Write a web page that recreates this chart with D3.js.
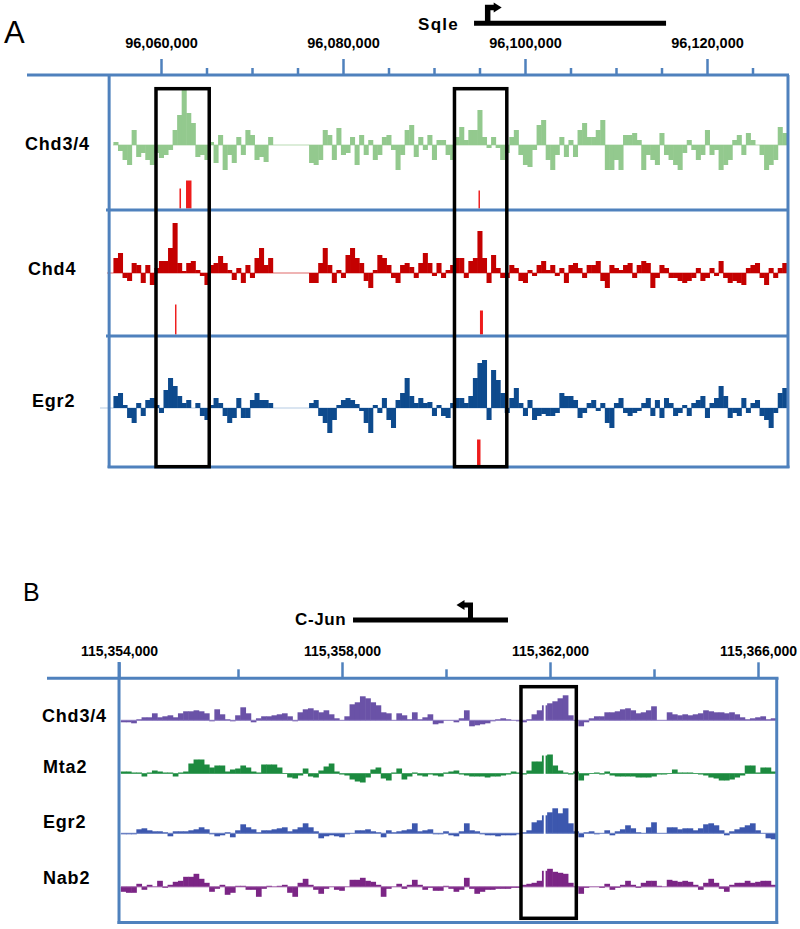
<!DOCTYPE html>
<html><head><meta charset="utf-8">
<script src="https://cdn.jsdelivr.net/npm/d3@7"></script>
<style>
body{margin:0;background:#fff}
svg{display:block}
text{font-family:"Liberation Sans",Arial,sans-serif}
</style>
</head><body>
<svg id="c" width="800" height="929"></svg>
<script>
// ================= PANEL A DATA =================
const labelsA = ["Chd3/4", "Chd4", "Egr2"];
const majorTicksA = [96060000, 96080000, 96100000, 96120000];
const minorTicksA = [96065000, 96070000, 96075000, 96085000, 96090000, 96095000, 96105000, 96110000, 96115000, 96125000];
const viewA = [96054300, 96128900];
const binStartA = 96054800, binSizeA = 500;
const N = null;
const chd34A = [3,-6,-15,-20,15,-12,-8,-15,-20,-8,-13,-10,-5,15,30,55,32,22,-12,-10,-15,3,-18,10,-25,-10,-18,8,-10,15,10,-15,-12,-17,8,
  N,N,N,N,N,N,N,N,
  -18,-20,-15,15,10,-15,17,-10,-8,8,-20,10,-10,5,-15,-10,8,10,-5,-25,-10,15,20,-12,8,-5,10,-15,5,5,
  -10,-15,8,18,5,15,15,35,8,-3,8,-3,-15,-8,8,15,-10,-20,-22,-5,20,25,-15,-25,-10,8,-12,5,-12,15,22,8,8,15,25,-25,-25,-15,-25,10,10,12,5,-25,-10,-15,-20,12,-10,-15,-20,-25,-8,5,-5,-15,-10,15,-10,-5,-25,-20,-15,5,10,-10,12,5,0,-10,-25,-20,-15,18,12];
const chd4A = [15,20,-5,-8,10,8,-10,8,-12,5,12,12,25,50,10,2,10,12,3,-3,-12,8,10,17,10,3,-7,5,-10,8,-5,15,25,8,15,
  N,N,N,N,N,N,N,N,
  -10,-10,10,25,8,-10,3,-5,18,25,15,10,-8,-15,3,18,15,8,-5,-10,8,10,6,-5,10,20,10,-3,10,-5,
  3,8,15,15,-5,12,15,42,15,-10,18,5,-5,-5,8,5,-8,-10,3,-3,8,12,3,8,-3,5,-10,8,10,5,-5,8,8,12,-8,-15,8,5,3,8,10,-5,8,12,10,-15,-5,8,5,-5,-5,-8,-10,-8,-5,5,-8,-5,5,-3,12,-5,-10,-8,-10,-12,5,8,10,-5,-12,5,-5,5,10];
const egr2A = [12,15,3,-10,-15,5,-8,8,10,3,-5,18,30,22,12,5,8,0,5,-8,-12,3,10,5,-8,-15,-10,10,-10,-10,8,15,8,8,5,
  N,N,N,N,N,N,N,N,
  5,8,-8,-15,-25,-12,3,8,10,8,4,-3,-15,-25,3,-5,10,-12,-20,8,15,30,12,5,10,5,6,-8,3,-8,
  -10,5,10,10,5,12,30,45,48,-12,38,28,15,-5,10,20,5,-8,8,-12,-8,-6,-8,-8,-5,15,12,12,8,-10,-5,5,8,-3,5,-15,-20,5,10,-5,-8,-5,-3,5,10,-8,8,-10,10,5,-8,-5,3,-8,5,8,12,-10,5,10,22,12,-10,-5,-8,10,-5,5,8,-8,-12,-20,-5,15,20];
// called peaks (red bars) per track
const peakTrackA = [0, 0, 0, 1, 1, 2];
const peakStartA = [96062030, 96062750, 96094890, 96061540, 96095050, 96094730];
const peakEndA   = [96062200, 96063350, 96095050, 96061700, 96095380, 96095110];
const peakScoreA = [20, 28, 18, 30, 24, 26];
const boxStartA = [96059450, 96092250];
const boxEndA   = [96065300, 96098000];
const geneA = {name: "Sqle", start: 96094400, end: 96115500, tss: 96095900, strand: "+"};

// ================= PANEL B DATA =================
const labelsB = ["Chd3/4", "Mta2", "Egr2", "Nab2"];
const tickPosB = [115353712, 115358000, 115362000, 115366000];
const tickLabelsB = ["115,354,000", "115,358,000", "115,362,000", "115,366,000"];
const minorTicksB = [115356000, 115360000, 115364000];
const viewB = [115353712, 115366360];
const binStartB = 115353750, binSizeB = 100;
const chd34B = [-2,-2,-3,1,3,3,7,3,4,5,3,7,9,9,10,9,7,-1,11,6,1,-1,5,13,7,-2,2,4,4,5,6,7,4,-1,8,11,12,10,8,10,6,2,0,4,16,18,24,22,18,15,8,7,0,7,5,1,8,1,3,6,-4,-3,0,
  0,-2,2,10,-6,-5,-4,-3,-1,1,2,1,0,-1,-2,1,6,10,15,17,19,22,25,5,0,-6,-2,2,4,4,8,8,9,11,12,10,7,8,10,14,0,0,8,6,5,6,5,6,7,10,9,8,8,7,8,6,3,1,2,3,4,1,2];
const mta2B = [2,2,1,1,-3,1,3,2,1,1,-3,1,2,10,14,14,9,6,8,8,2,4,5,8,6,2,1,9,9,9,6,0,-4,-5,-2,5,-3,-4,3,7,10,2,-1,-2,-6,-8,-9,-4,4,6,-5,-7,1,5,-6,-3,1,-2,-3,-1,-2,-3,1,
  2,3,-1,-2,-3,-3,-3,-4,-3,-3,-2,-1,2,1,-1,3,12,12,18,19,8,3,1,-1,2,-7,-2,0,1,-1,2,-2,-3,-3,-3,-3,-4,-4,-4,-3,-1,-1,0,4,1,1,1,0,-1,-2,-4,-5,-7,-7,-6,-4,-2,8,8,1,6,6,2];
const egr2B = [-1,-1,-1,4,5,3,2,2,1,-3,2,2,2,3,4,6,4,-1,-3,-2,1,-4,3,9,6,4,1,3,3,4,5,6,2,4,6,10,6,2,-5,-3,-2,-3,-4,-1,0,3,3,4,2,1,-4,3,1,2,3,4,10,2,3,4,-1,-1,2,
  -2,-3,2,10,3,2,-1,-2,-2,-3,-2,-2,-2,-1,1,3,11,13,18,21,25,20,25,10,2,-4,1,2,-1,0,3,-2,2,4,8,5,1,0,6,11,0,0,6,6,4,5,5,3,5,9,10,8,3,-2,2,4,6,8,10,3,0,-5,-6];
const nab2B = [-5,-6,-6,3,-3,2,0,6,-1,2,5,6,10,10,13,8,4,-5,-2,2,-8,-6,1,1,-3,-3,-10,-2,1,0,1,2,-6,-10,4,8,2,-3,-7,-2,0,-3,-4,0,7,7,9,6,5,2,-10,-2,0,3,-2,2,7,2,-3,-1,-4,-4,1,
  -2,-5,-3,9,-2,-7,-5,-3,-3,-2,-2,-2,-1,-1,2,3,4,6,16,18,15,14,13,4,0,-7,-1,0,0,-1,3,-3,-1,2,6,2,-1,4,6,6,1,0,7,6,5,6,5,2,-3,4,8,4,-2,-5,2,4,4,6,4,5,6,6,2];
const gapStartB = [115361880], gapEndB = [115361915];
const boxStartB = [115361442], boxEndB = [115362506];
const geneB = {name: "C-Jun", start: 115358212, end: 115361192, tss: 115360471, strand: "-"};

// ================= DRAWING =================
const svg = d3.select("#c");
const FRAME = "#4f81bd";

function drawTrack(g, x, y, base, values, start, size, color) {
  const data = values.map((v, i) => ({v, s: start + i * size, e: start + (i + 1) * size})).filter(d => d.v !== null);
  g.append("g").selectAll("rect").data(data).join("rect")
    .attr("x", d => x(d.s) - 0.25)
    .attr("width", d => x(d.e) - x(d.s) + 0.5)
    .attr("y", d => d.v >= 0 ? base - y(d.v) : base)
    .attr("height", d => Math.abs(y(d.v)))
    .attr("fill", color);
}

// ---------- Panel A ----------
const xA = d3.scaleLinear().domain([96060000, 96120000]).range([161, 707]);
const yA = d3.scaleLinear().domain([0, 60]).range([0, 60]);
const yPk = d3.scaleLinear().domain([0, 30]).range([0, 30]);
const A = svg.append("g");
const baseA = [145, 273, 408];
const sepA = [75, 210, 336, 467];
const colA = ["#93c98e", "#c40000", "#0d4a8d"];
const baseColA = ["#b9dcb4", "#e06a6a", "#b5cce4"];
const baseStartA = [113, 107, 100];

A.append("text").attr("x", 4).attr("y", 43).attr("font-size", 31).text("A");

// gene
A.append("text").attr("x", 418).attr("y", 29.5).attr("font-size", 17).attr("font-weight", "bold").attr("letter-spacing", 1.3).text(geneA.name);
A.append("line").attr("x1", xA(geneA.start)).attr("x2", xA(geneA.end)).attr("y1", 23.3).attr("y2", 23.3).attr("stroke", "#000").attr("stroke-width", 5);
{
  const t = xA(geneA.tss);
  A.append("path").attr("d", `M${t},23 V7.5 H${t + 8}`).attr("fill", "none").attr("stroke", "#000").attr("stroke-width", 5.5);
  A.append("path").attr("d", `M${t + 6},2.5 L${t + 14},7.5 L${t + 6},12.5 Z`).attr("fill", "#000");
}

// axis
A.append("line").attr("x1", 27).attr("x2", 789).attr("y1", 75).attr("y2", 75).attr("stroke", FRAME).attr("stroke-width", 3);
const axA = A.append("g").attr("transform", "translate(0,75)")
  .call(d3.axisTop(xA).tickValues(majorTicksA).tickSize(16).tickPadding(11.5).tickFormat(d3.format(",")));
const axA2 = A.append("g").attr("transform", "translate(0,75)")
  .call(d3.axisTop(xA).tickValues(minorTicksA).tickSize(7).tickFormat(""));
[axA, axA2].forEach(a => {
  a.select(".domain").remove();
  a.selectAll(".tick line").attr("stroke", FRAME).attr("stroke-width", 2.5);
  a.selectAll(".tick text").attr("fill", "#000").attr("font-size", 14.5).attr("font-weight", "bold")
    .attr("font-family", "'Liberation Sans',Arial,sans-serif");
});

// baselines + tracks
const valsA = [chd34A, chd4A, egr2A];
valsA.forEach((vals, k) => {
  A.append("line").attr("x1", baseStartA[k]).attr("x2", 787).attr("y1", baseA[k]).attr("y2", baseA[k])
    .attr("stroke", baseColA[k]).attr("stroke-width", 1.2);
  drawTrack(A, xA, yA, baseA[k], vals, binStartA, binSizeA, colA[k]);
  A.append("text").attr("x", [25, 28, 32][k]).attr("y", [150, 275, 407][k])
    .attr("font-size", 18).attr("font-weight", "bold").attr("letter-spacing", 0.8).text(labelsA[k]);
});
// peaks
peakTrackA.forEach((t, i) => {
  const bottom = sepA[t + 1] - 1.5;
  A.append("rect").attr("x", xA(peakStartA[i])).attr("width", xA(peakEndA[i]) - xA(peakStartA[i]))
    .attr("y", bottom - yPk(peakScoreA[i])).attr("height", yPk(peakScoreA[i])).attr("fill", "#ee1c1c");
});
// frame
const lA = xA(viewA[0]), rA = xA(viewA[1]);
A.append("line").attr("x1", lA).attr("x2", lA).attr("y1", 75).attr("y2", 468).attr("stroke", FRAME).attr("stroke-width", 3);
A.append("line").attr("x1", rA).attr("x2", rA).attr("y1", 75).attr("y2", 468).attr("stroke", FRAME).attr("stroke-width", 3);
[210, 336].forEach(y => A.append("line").attr("x1", 106).attr("x2", rA).attr("y1", y).attr("y2", y).attr("stroke", FRAME).attr("stroke-width", 3));
A.append("line").attr("x1", lA - 1.5).attr("x2", rA + 1.5).attr("y1", 467).attr("y2", 467).attr("stroke", FRAME).attr("stroke-width", 3);
// boxes
boxStartA.forEach((s, i) => {
  A.append("rect").attr("x", xA(s)).attr("width", xA(boxEndA[i]) - xA(s)).attr("y", 88.7).attr("height", 466.7 - 88.7)
    .attr("fill", "none").attr("stroke", "#000").attr("stroke-width", 3.5);
});

// ---------- Panel B ----------
const xB = d3.scaleLinear().domain([115358000, 115366000]).range([342, 758]);
const yB = d3.scaleLinear().domain([0, 30]).range([0, 30]);
const B = svg.append("g");
const baseB = [720.3, 773.5, 833.3, 886.8];
const colB = ["#6a52a7", "#1c8a3f", "#3c57ae", "#7b2585"];
const baseColB = ["#8b78c0", "#4aa568", "#6a80c4", "#9d5aa5"];
const labelYB = [722, 773, 828, 884];

B.append("text").attr("x", 23).attr("y", 601).attr("font-size", 25).text("B");
B.append("text").attr("x", 295).attr("y", 625).attr("font-size", 17).attr("font-weight", "bold").attr("letter-spacing", 0.6).text(geneB.name);
B.append("line").attr("x1", xB(geneB.start)).attr("x2", xB(geneB.end)).attr("y1", 620).attr("y2", 620).attr("stroke", "#000").attr("stroke-width", 5);
{
  const t = xB(geneB.tss);
  B.append("path").attr("d", `M${t},620 V605 H${t - 8}`).attr("fill", "none").attr("stroke", "#000").attr("stroke-width", 5);
  B.append("path").attr("d", `M${t - 6},600 L${t - 14},605 L${t - 6},610 Z`).attr("fill", "#000");
}

B.append("line").attr("x1", 47).attr("x2", 778.5).attr("y1", 678.3).attr("y2", 678.3).attr("stroke", FRAME).attr("stroke-width", 3);
const axB = B.append("g").attr("transform", "translate(0,678.3)")
  .call(d3.axisTop(xB).tickValues(tickPosB).tickSize(16).tickPadding(6.5).tickFormat((d, i) => tickLabelsB[i]));
const axB2 = B.append("g").attr("transform", "translate(0,678.3)")
  .call(d3.axisTop(xB).tickValues(minorTicksB).tickSize(9).tickFormat(""));
[axB, axB2].forEach(a => {
  a.select(".domain").remove();
  a.selectAll(".tick line").attr("stroke", FRAME).attr("stroke-width", 2.5);
  a.selectAll(".tick text").attr("fill", "#000").attr("font-size", 14).attr("font-weight", "bold")
    .attr("font-family", "'Liberation Sans',Arial,sans-serif");
});

const valsB = [chd34B, mta2B, egr2B, nab2B];
valsB.forEach((vals, k) => {
  drawTrack(B, xB, yB, baseB[k], vals, binStartB, binSizeB, colB[k]);
  B.append("line").attr("x1", xB(binStartB)).attr("x2", xB(viewB[1]) - 1).attr("y1", baseB[k]).attr("y2", baseB[k])
    .attr("stroke", baseColB[k]).attr("stroke-width", 1);
  B.append("text").attr("x", [42, 43, 43, 43][k]).attr("y", labelYB[k])
    .attr("font-size", 18).attr("font-weight", "bold").attr("letter-spacing", 0.8).text(labelsB[k]);
});
gapStartB.forEach((s, i) => {
  B.append("rect").attr("x", xB(s)).attr("width", xB(gapEndB[i]) - xB(s)).attr("y", 690).attr("height", 215).attr("fill", "#fff");
});
const lB = xB(viewB[0]), rB = xB(viewB[1]);
B.append("line").attr("x1", lB).attr("x2", lB).attr("y1", 662).attr("y2", 924).attr("stroke", FRAME).attr("stroke-width", 3);
B.append("line").attr("x1", rB).attr("x2", rB).attr("y1", 678).attr("y2", 924).attr("stroke", FRAME).attr("stroke-width", 3);
B.append("line").attr("x1", lB - 1.5).attr("x2", rB + 1.5).attr("y1", 922.5).attr("y2", 922.5).attr("stroke", FRAME).attr("stroke-width", 3);
boxStartB.forEach((s, i) => {
  B.append("rect").attr("x", xB(s)).attr("width", xB(boxEndB[i]) - xB(s)).attr("y", 686.7).attr("height", 918.3 - 686.7)
    .attr("fill", "none").attr("stroke", "#000").attr("stroke-width", 3.5);
});
</script>
</body></html>
